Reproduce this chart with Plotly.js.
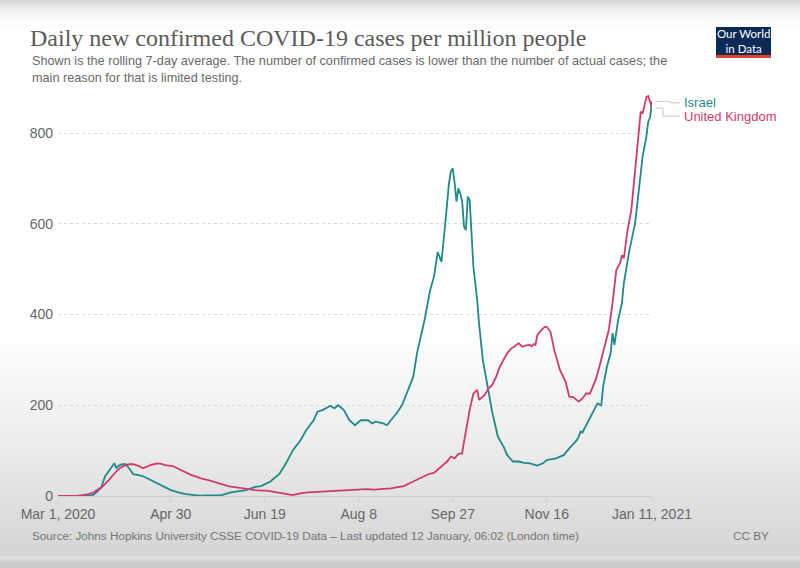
<!DOCTYPE html>
<html>
<head>
<meta charset="utf-8">
<script src="https://cdn.plot.ly/plotly-3.0.1.min.js"></script>
<style>
html,body{margin:0;padding:0;}
body{width:800px;height:568px;overflow:hidden;
background:linear-gradient(to bottom,#d4d4d4 0px,#f2f2f2 10px,#ffffff 28px,#ffffff 330px,#ebebeb 450px,#dcdcdc 520px,#d6d6d6 555px,#e2e2e2 558px,#cdcdcd 562px,#c8c8c8 568px);}
#chart{width:800px;height:568px;}
</style>
</head>
<body>
<div id="chart"></div>
<script>
// ---- Data (7-day rolling average, daily new confirmed cases per million) ----
const israelDates = ["2020-03-01","2020-03-17","2020-03-20","2020-03-22","2020-03-24","2020-03-26","2020-03-28","2020-03-29","2020-03-31","2020-04-01","2020-04-02","2020-04-04","2020-04-06","2020-04-08","2020-04-10","2020-04-13","2020-04-15","2020-04-18","2020-04-20","2020-04-25","2020-04-30","2020-05-04","2020-05-08","2020-05-15","2020-05-22","2020-05-27","2020-06-01","2020-06-05","2020-06-09","2020-06-14","2020-06-17","2020-06-22","2020-06-27","2020-06-30","2020-07-04","2020-07-08","2020-07-11","2020-07-15","2020-07-17","2020-07-20","2020-07-24","2020-07-26","2020-07-28","2020-07-31","2020-08-03","2020-08-06","2020-08-09","2020-08-13","2020-08-15","2020-08-17","2020-08-21","2020-08-23","2020-08-26","2020-08-28","2020-08-31","2020-09-03","2020-09-06","2020-09-08","2020-09-10","2020-09-12","2020-09-15","2020-09-17","2020-09-19","2020-09-21","2020-09-23","2020-09-25","2020-09-26","2020-09-27","2020-09-28","2020-09-29","2020-09-30","2020-10-01","2020-10-02","2020-10-03","2020-10-04","2020-10-05","2020-10-06","2020-10-08","2020-10-10","2020-10-11","2020-10-13","2020-10-16","2020-10-18","2020-10-21","2020-10-24","2020-10-26","2020-10-29","2020-11-01","2020-11-04","2020-11-07","2020-11-11","2020-11-14","2020-11-16","2020-11-21","2020-11-25","2020-11-28","2020-12-02","2020-12-03","2020-12-04","2020-12-05","2020-12-07","2020-12-10","2020-12-13","2020-12-15","2020-12-16","2020-12-18","2020-12-20","2020-12-21","2020-12-22","2020-12-24","2020-12-26","2020-12-27","2020-12-30","2021-01-02","2021-01-04","2021-01-06","2021-01-08","2021-01-09","2021-01-10","2021-01-11"];
const israelValues = [0,0,3,10,18,43,55,60,72,62,66,70,70,60,48,46,44,38,34,24,13,8,4,1,1,2,8,11,13,20,22,32,50,70,101,123,145,167,186,190,199,193,200,190,167,156,167,167,160,164,160,156,171,182,200,233,263,315,350,388,454,483,538,516,600,690,715,722,690,649,678,667,650,594,586,660,652,505,432,380,300,234,185,131,109,90,76,76,73,72,67,72,79,83,90,105,123,131,142,140,156,182,204,200,241,285,315,359,333,388,425,469,542,601,674,748,792,825,835,870];

const ukDates = ["2020-03-01","2020-03-11","2020-03-14","2020-03-17","2020-03-20","2020-03-22","2020-03-25","2020-03-28","2020-03-30","2020-04-01","2020-04-03","2020-04-06","2020-04-08","2020-04-10","2020-04-13","2020-04-15","2020-04-17","2020-04-19","2020-04-21","2020-04-23","2020-04-25","2020-04-27","2020-05-01","2020-05-04","2020-05-06","2020-05-09","2020-05-11","2020-05-14","2020-05-16","2020-05-20","2020-05-24","2020-05-28","2020-05-31","2020-06-04","2020-06-07","2020-06-11","2020-06-14","2020-06-17","2020-06-20","2020-06-24","2020-06-29","2020-07-02","2020-07-04","2020-07-06","2020-07-08","2020-07-12","2020-07-17","2020-07-21","2020-07-25","2020-07-29","2020-08-03","2020-08-08","2020-08-12","2020-08-16","2020-08-21","2020-08-25","2020-08-28","2020-09-01","2020-09-04","2020-09-07","2020-09-11","2020-09-14","2020-09-17","2020-09-21","2020-09-24","2020-09-26","2020-09-28","2020-09-30","2020-10-02","2020-10-03","2020-10-04","2020-10-06","2020-10-08","2020-10-10","2020-10-11","2020-10-13","2020-10-14","2020-10-16","2020-10-18","2020-10-20","2020-10-22","2020-10-24","2020-10-26","2020-10-28","2020-10-30","2020-11-01","2020-11-02","2020-11-03","2020-11-05","2020-11-07","2020-11-08","2020-11-09","2020-11-10","2020-11-11","2020-11-13","2020-11-15","2020-11-16","2020-11-18","2020-11-20","2020-11-23","2020-11-26","2020-11-28","2020-11-30","2020-12-01","2020-12-03","2020-12-05","2020-12-07","2020-12-09","2020-12-12","2020-12-14","2020-12-17","2020-12-19","2020-12-21","2020-12-23","2020-12-25","2020-12-26","2020-12-27","2020-12-29","2020-12-31","2021-01-02","2021-01-04","2021-01-05","2021-01-06","2021-01-07","2021-01-08","2021-01-09","2021-01-10","2021-01-11"];
const ukValues = [0,0,2,4,8,13,22,35,45,54,62,68,70,70,66,61,64,68,70,72,71,68,66,60,56,50,46,42,39,35,30,25,21,19,17,15,13,12,12,9,6,3,2,4,6,8,9,9,10,11,12,14,15,14,15,17,19,22,28,34,43,48,51,65,76,87,83,93,94,120,145,190,226,234,212,220,223,237,245,262,285,300,315,325,330,337,333,329,332,333,330,335,333,355,365,373,373,362,322,278,252,219,218,215,208,215,226,226,256,285,337,366,425,498,513,531,524,586,630,711,807,847,843,865,880,882,870,855];

const seriesNames = ["Israel","United Kingdom"];
const xTickVals = ["2020-03-01","2020-04-30","2020-06-19","2020-08-08","2020-09-27","2020-11-16","2021-01-11"];
const xTickText = ["Mar 1, 2020","Apr 30","Jun 19","Aug 8","Sep 27","Nov 16","Jan 11, 2021"];
const yTickVals = [0,200,400,600,800];

const titleText = "Daily new confirmed COVID-19 cases per million people";
const subtitleText = "Shown is the rolling 7-day average. The number of confirmed cases is lower than the number of actual cases; the<br>main reason for that is limited testing.";
const sourceText = "Source: Johns Hopkins University CSSE COVID-19 Data – Last updated 12 January, 06:02 (London time)";
const licenseText = "CC BY";

// ---- Layout helpers ----
const W = 800, H = 568;
const M = {l:58, r:148, t:90, b:72};
const PW = W - M.l - M.r, PH = H - M.t - M.b;
const px = x => (x - M.l) / PW;          // container px -> paper x
const py = y => (H - M.b - y) / PH;      // container px -> paper y

const colIsrael = "#1f8a87";
const colUK = "#d13a6c";
const sans = "Liberation Sans, Arial, sans-serif";

const traces = [
  {x: israelDates, y: israelValues, name: seriesNames[0], type: "scatter", mode: "lines",
   line: {color: colIsrael, width: 1.8}, hoverinfo: "skip"},
  {x: ukDates, y: ukValues, name: seriesNames[1], type: "scatter", mode: "lines",
   line: {color: colUK, width: 1.8}, hoverinfo: "skip"}
];

const lastI = israelValues.length - 1, lastU = ukValues.length - 1;

const layout = {
  width: W, height: H,
  margin: M,
  paper_bgcolor: "rgba(0,0,0,0)",
  plot_bgcolor: "rgba(0,0,0,0)",
  showlegend: false,
  title: {text: titleText, xref: "container", yref: "container", x: 30/W, xanchor: "left",
          y: 1 - 38/H, yanchor: "middle",
          font: {family: "Liberation Serif, Times New Roman, serif", size: 24, color: "#5b5b5b"}},
  xaxis: {
    type: "date", range: ["2020-03-01","2021-01-11"],
    tickvals: xTickVals, ticktext: xTickText,
    showgrid: false, zeroline: false,
    showline: true, linecolor: "#cfcfcf", linewidth: 1,
    ticks: "outside", ticklen: 5, tickcolor: "#cfcfcf",
    tickfont: {family: sans, size: 14, color: "#666"},
    fixedrange: true
  },
  yaxis: {
    range: [0, 895], tickvals: yTickVals,
    showgrid: true, gridcolor: "#dadada", griddash: "dot", gridwidth: 1,
    zeroline: false, showline: false, ticks: "",
    tickfont: {family: sans, size: 14, color: "#666"},
    ticklabelstandoff: 4,
    fixedrange: true
  },
  shapes: [
    // Our World in Data logo
    {type: "rect", xref: "paper", yref: "paper", x0: px(716), x1: px(771), y0: py(58), y1: py(27),
     fillcolor: "#0b2a55", line: {width: 0}, layer: "above"},
    {type: "rect", xref: "paper", yref: "paper", x0: px(716), x1: px(771), y0: py(58), y1: py(55),
     fillcolor: "#e0432b", line: {width: 0}, layer: "above"},
    // leader lines from series ends (right edge of the plot) to labels
    {type: "path", xref: "paper", yref: "y", xsizemode: "pixel", ysizemode: "pixel",
     xanchor: 1, yanchor: israelValues[lastI],
     path: "M4,0 H18 V-1.5 H28", line: {color: "#c8c8c8", width: 1}},
    {type: "path", xref: "paper", yref: "y", xsizemode: "pixel", ysizemode: "pixel",
     xanchor: 1, yanchor: ukValues[lastU],
     path: "M4,0 H11 V-8 H28", line: {color: "#c8c8c8", width: 1}}
  ],
  annotations: [
    {text: subtitleText, xref: "paper", yref: "paper", x: px(30), y: py(52), xanchor: "left", yanchor: "top",
     align: "left", showarrow: false, font: {family: sans, size: 12.7, color: "#6a6a6a"}},
    {text: sourceText, xref: "paper", yref: "paper", x: px(30), y: py(535), xanchor: "left", yanchor: "middle",
     showarrow: false, font: {family: sans, size: 11.7, color: "#747474"}},
    {text: licenseText, xref: "paper", yref: "paper", x: px(771), y: py(535), xanchor: "right", yanchor: "middle",
     showarrow: false, font: {family: sans, size: 11.7, color: "#747474"}},
    {text: "Our World<br>in Data", xref: "paper", yref: "paper", x: px(743.5), y: py(41), xanchor: "center", yanchor: "middle",
     showarrow: false, font: {family: "Lato, Liberation Sans, sans-serif", size: 11.5, color: "#ffffff"}},
    {text: seriesNames[0], xref: "x", yref: "y", x: israelDates[lastI], y: israelValues[lastI],
     xanchor: "left", yanchor: "middle", xshift: 30, yshift: -1, showarrow: false,
     font: {family: sans, size: 13, color: colIsrael}},
    {text: seriesNames[1], xref: "x", yref: "y", x: ukDates[lastU], y: ukValues[lastU],
     xanchor: "left", yanchor: "middle", xshift: 30, yshift: -8, showarrow: false,
     font: {family: sans, size: 13, color: colUK}}
  ]
};

Plotly.newPlot("chart", traces, layout, {displayModeBar: false, staticPlot: true});
</script>
</body>
</html>
